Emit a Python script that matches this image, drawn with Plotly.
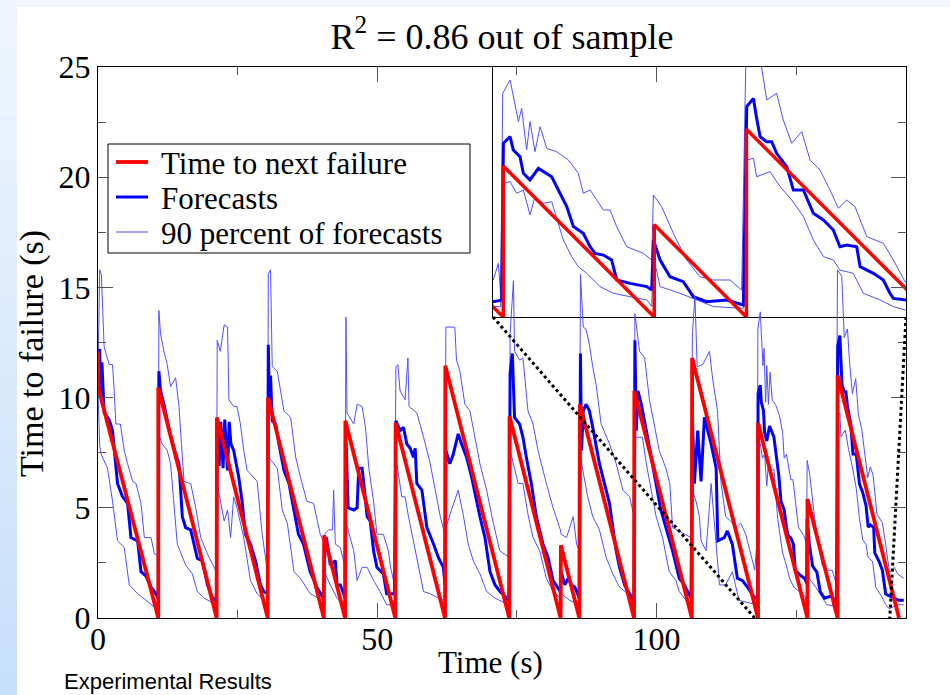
import plotly.graph_objects as go

# ---------------- data ----------------
red_t = [0, 0.1, 10.8, 10.8, 21.25, 21.3, 30.4, 30.45, 40.45, 40.5, 44.25, 44.3, 53.25,
         53.3, 62.15, 62.2, 73.65, 73.7, 82.85, 82.9, 86.2, 86.3, 96.0, 96.05, 106.35,
         106.4, 118.2, 118.2, 127.05, 127.05, 132.45, 132.45, 143.45]
red_v = [12.1, 10.4, 0, 10.45, 0, 9.1, 0, 10.0, 0, 3.75, 0, 8.95, 0,
         8.85, 0, 11.45, 0, 9.15, 0, 3.3, 0, 9.7, 0, 10.3, 0,
         11.8, 0, 8.85, 0, 5.4, 0, 11.0, 0]

fc_t = [0.0, 0.15, 0.3, 0.5, 0.7, 1.1, 2.0, 2.6, 3.5, 4.4, 5.3, 5.9, 7.1, 7.7, 8.6, 9.5, 10.1, 10.8,
        10.9, 11.2, 11.8, 12.7, 13.6, 14.5, 15.1, 15.7, 16.6, 17.8, 18.7, 19.6, 20.5, 21.2,
        21.35, 21.7, 22.0, 22.4, 22.7, 23.2, 23.5, 23.8, 24.3, 25.2, 25.8, 26.4, 27.3, 28.2, 29.1, 29.7, 30.35,
        30.5, 30.7, 30.9, 31.2, 31.8, 32.4, 33.3, 34.2, 35.1, 35.9, 36.8, 38.0, 39.2, 40.35,
        40.55, 40.9, 41.6, 42.5, 42.8, 43.4, 44.0, 44.25,
        44.4, 44.8, 45.8, 46.4, 46.7, 47.3, 47.6, 48.2, 48.75, 49.35, 49.95, 51.1, 51.7, 53.1,
        53.35, 54.1, 54.7, 55.3, 55.9, 56.5, 56.8, 57.1, 58.0, 58.9, 60.1, 60.95, 61.85, 62.15,
        62.3, 63.0, 63.6, 64.5, 65.1, 66.0, 66.9, 67.8, 68.4, 69.3, 70.2, 71.1, 72.0, 73.6,
        73.8, 74.2, 74.6, 75.5, 76.1, 76.7, 77.6, 78.5, 79.7, 80.6, 81.5, 82.8,
        82.95, 83.6, 84.2, 84.8, 85.4, 86.2,
        86.4, 86.6, 86.9, 87.4, 88.0, 88.6, 89.2, 89.8, 90.7, 91.6, 92.2, 92.8, 93.4, 94.3, 95.2, 96.0,
        96.15, 96.4, 96.7, 97.3, 98.2, 99.05, 99.95, 100.8, 101.7, 102.9, 104.1, 105.0, 106.2,
        106.45, 106.8, 107.4, 108.0, 108.6, 109.2, 109.8, 110.7, 111.0, 112.15, 112.7, 113.6, 114.5, 115.4,
        116.3, 117.62, 118.11,
        118.21, 118.6, 118.79, 119.18, 119.38, 119.77, 120.26, 121.04, 121.43, 121.92, 122.31, 122.89,
        123.29, 123.58, 124.07, 124.55, 124.85, 125.63, 126.61, 126.9,
        127.0, 127.39, 127.97, 128.75, 129.34, 130.12, 131.29, 132.27,
        132.47, 132.86, 133.05, 133.25, 133.64, 133.93, 134.22, 134.81, 135.2, 135.79, 136.37, 136.96,
        137.54, 137.93, 138.32, 138.91, 139.11, 139.89, 140.47, 140.86, 141.06, 141.74, 142.5, 143.4, 144.3]
fc_v = [12.0, 10.6, 12.2, 10.0, 11.6, 9.3, 9.0, 8.5, 6.1, 5.5, 5.2, 3.65, 3.5, 2.1, 1.9, 1.4, 1.2, 0.9,
        11.2, 10.3, 9.7, 8.6, 7.7, 7.0, 4.6, 4.1, 4.0, 2.7, 2.6, 1.5, 0.9, 0.8,
        8.8, 6.9, 8.9, 6.8, 9.0, 6.7, 8.9, 7.9, 7.6, 6.4, 5.3, 3.8, 3.35, 2.6, 1.5, 1.2, 1.1,
        12.4, 9.5, 11.0, 8.95, 8.8, 7.9, 6.7, 6.1, 4.9, 3.8, 3.35, 2.1, 1.4, 0.9,
        2.6, 3.65, 2.4, 2.6, 1.5, 1.5, 1.1, 0.9,
        8.2, 5.0, 4.9, 5.0, 6.8, 6.8, 6.1, 4.6, 4.4, 3.05, 2.3, 2.0, 1.1, 1.1,
        8.95, 8.5, 8.65, 7.9, 7.7, 7.3, 7.7, 6.1, 5.8, 4.1, 3.35, 2.75, 2.3, 1.5,
        7.6, 7.0, 7.4, 8.35, 7.9, 7.3, 6.4, 5.3, 4.6, 3.65, 2.1, 1.5, 1.2, 0.8,
        11.1, 12.0, 9.1, 8.8, 8.2, 7.3, 6.1, 4.6, 3.35, 2.75, 1.7, 1.2,
        2.1, 1.5, 1.8, 1.5, 1.4, 0.9,
        12.0, 7.6, 9.4, 9.7, 9.4, 8.65, 7.9, 7.0, 6.1, 5.2, 4.1, 3.05, 2.3, 1.5, 1.1, 0.8,
        12.6, 8.5, 10.3, 9.7, 8.5, 7.3, 6.1, 4.9, 4.1, 3.05, 1.8, 1.5, 0.9,
        9.1, 6.1, 8.5, 6.2, 9.1, 8.5, 7.9, 6.8, 3.5, 3.65, 3.95, 3.35, 1.8, 1.7,
        1.4, 0.9, 0.99,
        10.18, 10.57, 9.79, 9.4, 8.42, 8.03, 8.71, 8.22, 7.44, 6.47, 5.3, 4.9,
        4.12, 3.73, 3.63, 3.34, 2.17, 1.97, 1.78, 1.58,
        4.51, 3.34, 2.36, 2.07, 1.19, 0.9, 1.0, 0.71,
        12.33, 12.81, 11.64, 10.57, 10.27, 10.27, 9.59, 8.81, 7.44, 7.44, 6.08, 5.69,
        5.1, 4.12, 4.22, 4.12, 2.95, 2.56, 2.17, 1.39, 1.09, 1.0, 0.9, 0.8, 0.8]

hi_t = [0.0, 0.3, 0.6, 1.1, 2.0, 2.6, 2.9, 3.2, 4.0, 4.7, 5.3, 6.2, 6.8, 7.7, 8.3, 9.5, 10.1, 10.8,
        10.9, 11.2, 11.8, 12.4, 13.0, 13.9, 14.5, 15.4, 16.6, 17.5, 18.4, 19.6, 21.2,
        21.35, 21.9, 22.6, 23.2, 23.45, 24.3, 24.9, 25.5, 26.1, 26.7, 28.5, 29.4, 30.35,
        30.5, 30.9, 31.2, 32.1, 32.7, 33.3, 34.5, 35.4, 36.25, 37.4, 38.6, 39.8, 40.35,
        40.55, 41.3, 42.0, 42.2, 42.5, 43.4, 44.25,
        44.4, 44.6, 45.8, 46.4, 47.3, 47.9, 48.5, 49.35, 49.95, 51.1, 52.0, 52.4, 53.1,
        53.35, 53.7, 54.1, 55.0, 55.5, 55.7, 57.1, 58.3, 59.5, 60.4, 61.3, 62.1,
        62.3, 63.9, 64.2, 64.8, 65.7, 66.6, 67.5, 68.4, 69.6, 70.8, 71.95, 73.6,
        73.8, 74.4, 74.6, 75.5, 76.1, 77.0, 77.9, 78.8, 80.3, 81.5, 82.8,
        82.95, 83.9, 85.1, 85.7, 86.2,
        86.4, 86.9, 87.4, 88.0, 88.6, 89.2, 90.1, 91.6, 92.8, 94.0, 95.2, 96.0,
        96.15, 97.0, 97.9, 98.75, 99.6, 100.5, 101.7, 102.4, 102.9, 104.1, 106.2,
        106.45, 106.9, 107.3, 108.3, 109.5, 110.1, 110.95, 111.55, 112.4, 113.3, 114.2, 115.1, 116.0,
        117.62, 117.91, 118.05,
        118.17, 118.6, 118.79, 119.09, 119.28, 119.57, 119.77, 120.06, 120.36, 120.75, 121.33, 122.02,
        122.6, 122.89, 123.29, 124.07, 124.46, 124.85, 125.43, 126.41, 126.9,
        127.0, 127.48, 128.17, 128.95, 129.73, 130.51, 131.49, 132.17,
        132.43, 133.2, 133.64, 134.22, 134.61, 135.1, 135.69, 136.18, 136.76, 137.35, 137.84, 138.32,
        138.81, 139.5, 140.47, 141.06, 141.74, 142.6, 143.2, 144.3]
hi_v = [11.0, 15.8, 15.6, 12.3, 11.5, 11.5, 10.3, 8.8, 8.8, 7.6, 7.0, 6.2, 6.1, 5.2, 3.65, 3.65, 2.9, 2.8,
        13.95, 12.9, 12.1, 11.5, 10.5, 10.9, 9.6, 6.2, 6.1, 5.0, 3.65, 2.9, 2.1,
        12.6, 12.1, 13.3, 13.2, 9.9, 9.6, 9.6, 8.8, 7.6, 6.7, 6.2, 3.8, 2.1,
        15.6, 15.8, 11.4, 11.2, 10.3, 9.4, 9.1, 7.3, 6.4, 5.3, 5.2, 3.8, 3.5,
        3.8, 4.0, 4.0, 5.8, 3.35, 3.2, 2.3,
        13.65, 9.3, 8.8, 9.7, 9.6, 8.65, 6.8, 5.3, 3.8, 3.8, 3.05, 2.3, 1.5,
        11.4, 11.5, 10.3, 9.9, 11.8, 9.6, 9.3, 8.2, 7.0, 5.8, 4.6, 3.8,
        13.2, 13.2, 11.7, 11.2, 9.7, 9.4, 8.2, 7.0, 5.8, 4.3, 3.05, 2.75,
        12.9, 15.3, 12.1, 11.7, 11.8, 9.4, 8.8, 7.6, 6.1, 5.0, 4.0,
        3.8, 3.65, 4.6, 3.35, 3.05,
        15.6, 13.2, 13.1, 12.4, 11.4, 10.6, 8.8, 7.9, 7.0, 5.8, 5.5, 4.6,
        13.8, 12.1, 11.8, 9.9, 8.8, 7.6, 6.8, 6.1, 4.1, 3.95, 3.65,
        12.9, 14.6, 11.4, 11.5, 12.1, 10.8, 9.4, 6.2, 4.6, 4.4, 4.1, 4.3, 3.8,
        2.17, 3.15, 1.39,
        13.11, 13.89, 12.91, 11.45, 12.23, 9.79, 11.45, 9.69, 11.15, 9.88, 9.69, 9.2,
        8.42, 7.25, 7.44, 6.27, 6.27, 5.29, 4.12, 3.73, 3.34,
        7.15, 6.47, 4.9, 3.34, 2.36, 2.17, 2.17, 1.58,
        15.8, 15.5, 12.72, 13.11, 11.54, 10.18, 10.86, 9.2, 8.61, 7.44, 6.37, 6.86,
        6.47, 4.71, 4.32, 3.34, 2.07, 2.3, 2.0, 1.8]

lo_t = [0.0, 0.3, 0.6, 1.7, 2.6, 3.5, 4.7, 5.6, 7.1, 8.3, 10.1, 10.8,
        10.9, 11.5, 12.4, 13.0, 14.2, 15.7, 16.9, 17.8, 19.0, 21.2,
        21.35, 22.6, 23.2, 23.75, 24.3, 24.9, 26.1, 27.3, 28.5, 29.7, 30.35,
        30.55, 32.1, 33.0, 33.9, 35.1, 36.25, 38.0, 40.35,
        40.55, 41.6, 42.8, 44.25,
        44.45, 45.8, 46.4, 47.3, 48.2, 49.35, 50.5, 51.7, 53.1,
        53.35, 54.4, 55.0, 55.6, 56.8, 58.3, 59.5, 60.95, 62.1,
        62.3, 63.3, 64.5, 65.4, 66.3, 67.2, 68.4, 69.6, 71.1, 73.6,
        73.8, 75.25, 76.1, 77.0, 77.9, 79.1, 80.3, 81.5, 82.8,
        82.95, 84.5, 86.2,
        86.4, 87.7, 88.6, 89.8, 91.0, 92.2, 93.4, 94.9, 96.0,
        96.15, 97.5, 98.2, 99.05, 99.95, 101.1, 102.3, 103.5, 104.1, 106.2,
        106.45, 107.1, 107.7, 108.0, 108.9, 109.8, 110.4, 111.3, 112.4, 113.6, 114.8, 117.62, 118.05,
        118.17, 118.6, 118.99, 119.38, 119.77, 120.06, 120.55, 121.04, 121.72, 122.21, 122.6, 123.09,
        123.87, 124.65, 125.63, 126.61, 126.9,
        127.0, 127.39, 128.56, 130.51, 132.27,
        132.47, 132.86, 133.05, 133.83, 134.42, 135.1, 135.79, 136.37, 136.96, 137.54, 137.93, 138.71,
        139.3, 140.28, 141.06, 141.74, 143.0, 144.3]
lo_v = [10.3, 7.8, 7.4, 6.8, 5.3, 3.5, 3.2, 1.5, 1.1, 0.85, 0.5, 0.5,
        8.3, 7.9, 7.6, 7.0, 3.35, 2.4, 2.0, 1.2, 0.9, 0.6,
        6.1, 4.4, 4.9, 3.65, 5.5, 5.0, 3.65, 1.7, 1.1, 0.8, 0.5,
        7.3, 6.8, 4.9, 4.3, 2.1, 1.8, 1.1, 0.8,
        2.1, 1.5, 0.9, 0.5,
        4.3, 3.05, 1.7, 2.3, 2.3, 1.7, 1.2, 0.6, 0.6,
        7.3, 5.5, 5.5, 4.6, 3.05, 1.2, 1.1, 0.9, 0.8,
        4.1, 4.9, 5.8, 4.7, 3.35, 2.6, 2.0, 1.2, 0.9, 0.6,
        7.6, 6.1, 6.1, 4.7, 3.65, 3.05, 1.8, 1.2, 0.9,
        1.1, 0.8, 0.6,
        7.3, 5.5, 4.6, 4.0, 2.75, 2.0, 1.4, 1.1, 0.6,
        8.2, 8.2, 7.0, 5.8, 4.6, 3.65, 2.1, 1.7, 1.2, 0.5,
        5.8, 5.3, 4.6, 3.5, 3.05, 6.1, 4.3, 1.5, 1.5, 2.1, 0.8, 0.6, 0.6,
        7.83, 7.93, 7.25, 7.44, 5.98, 7.05, 6.66, 6.76, 4.51, 3.54, 2.95, 2.56,
        1.78, 1.39, 1.19, 1.0, 0.61,
        3.54, 1.78, 1.39, 0.61, 0.51,
        9.2, 9.3, 8.22, 8.52, 7.64, 6.86, 5.88, 4.51, 3.54, 3.34, 2.75, 2.56,
        1.39, 1.0, 0.61, 0.41, 0.6, 0.6]

x_ticks = [0, 50, 100]
y_ticks = [0, 5, 10, 15, 20, 25]
legend_labels = ["Time to next failure", "Forecasts", "90 percent of forecasts"]
title_text = "R<sup>2</sup> = 0.86 out of sample"
x_title = "Time (s)"
y_title = "Time to failure (s)"
footer_text = "Experimental Results"

# ---------------- layout geometry ----------------
W, H = 950, 695
ML, MR, MT, MB = 98, 44, 67, 77
PW, PH = W - ML - MR, H - MT - MB
main_xr = [0, 144.7]
main_yr = [0, 25]
inset_xr = [117.6, 141.8]
inset_yr = [0, 14.65]
inset_dom_x = [(493 - ML) / PW, 1.0]
inset_dom_y = [(H - MB - 317) / PH, 1.0]


def px(x):
    return (x - ML) / PW


def py(y):
    return (H - MB - y) / PH


SERIF = "Liberation Serif"
RED = "#ff0000"
BLUE = "#0000ff"
THIN = "rgb(80,80,255)"

fig = go.Figure()

# inset (drawn underneath the main plot, on axes x / y)
fig.add_trace(go.Scatter(x=hi_t, y=hi_v, mode="lines", line=dict(color=THIN, width=1),
                         xaxis="x", yaxis="y", showlegend=False, hoverinfo="skip"))
fig.add_trace(go.Scatter(x=lo_t, y=lo_v, mode="lines", line=dict(color=THIN, width=1),
                         xaxis="x", yaxis="y", showlegend=False, hoverinfo="skip"))
fig.add_trace(go.Scatter(x=fc_t, y=fc_v, mode="lines", line=dict(color=BLUE, width=3),
                         xaxis="x", yaxis="y", showlegend=False, hoverinfo="skip"))
fig.add_trace(go.Scatter(x=red_t, y=red_v, mode="lines", line=dict(color=RED, width=3.5),
                         xaxis="x", yaxis="y", showlegend=False, hoverinfo="skip"))

# main plot (axes x2 / y2)
fig.add_trace(go.Scatter(x=hi_t, y=hi_v, mode="lines", line=dict(color=THIN, width=1),
                         xaxis="x2", yaxis="y2", name=legend_labels[2], showlegend=False))
fig.add_trace(go.Scatter(x=lo_t, y=lo_v, mode="lines", line=dict(color=THIN, width=1),
                         xaxis="x2", yaxis="y2", name=legend_labels[2] + " (lower)", showlegend=False))
fig.add_trace(go.Scatter(x=fc_t, y=fc_v, mode="lines", line=dict(color=BLUE, width=3),
                         xaxis="x2", yaxis="y2", name=legend_labels[1], showlegend=False))
fig.add_trace(go.Scatter(x=red_t, y=red_v, mode="lines", line=dict(color=RED, width=3.8),
                         xaxis="x2", yaxis="y2", name=legend_labels[0], showlegend=False))

shapes = []
# slide background: top band and left gradient strip
shapes.append(dict(type="rect", xref="paper", yref="paper", x0=px(0), x1=px(W), y0=py(0), y1=py(7),
                   fillcolor="#f1f6fd", line=dict(width=0), layer="below"))
n = 30
c0 = (238, 245, 253)
c1 = (199, 224, 250)
for i in range(n):
    f = i / (n - 1)
    col = "rgb(%d,%d,%d)" % tuple(round(c0[k] + (c1[k] - c0[k]) * f) for k in range(3))
    shapes.append(dict(type="rect", xref="paper", yref="paper", x0=px(0), x1=px(17),
                       y0=py(H * i / n), y1=py(H * (i + 1) / n + 1),
                       fillcolor=col, line=dict(width=0), layer="below"))

# dotted connectors between zoomed region and inset
ix0 = main_xr[0] + inset_dom_x[0] * (main_xr[1] - main_xr[0])
ix1 = main_xr[0] + inset_dom_x[1] * (main_xr[1] - main_xr[0])
iy0 = main_yr[0] + inset_dom_y[0] * (main_yr[1] - main_yr[0])
for (sx, tx) in [(ix0, inset_xr[0]), (ix1, inset_xr[1])]:
    shapes.append(dict(type="line", xref="x2", yref="y2", x0=sx, y0=iy0, x1=tx, y1=inset_yr[0],
                       line=dict(color="black", width=3, dash="dot")))

# manual legend (box, sample lines, labels)
shapes.append(dict(type="rect", xref="paper", yref="paper", x0=px(108), x1=px(470), y0=py(144), y1=py(253),
                   fillcolor="white", line=dict(color="black", width=1)))
leg_y = [162, 197, 232]
leg_style = [(RED, 3.8), (BLUE, 3), (THIN, 1)]
annotations = []
for lbl, yy, (c, w) in zip(legend_labels, leg_y, leg_style):
    shapes.append(dict(type="line", xref="paper", yref="paper", x0=px(116), x1=px(148), y0=py(yy), y1=py(yy),
                       line=dict(color=c, width=w)))
    annotations.append(dict(text=lbl, xref="paper", yref="paper", x=px(160), y=py(yy + 1),
                            xanchor="left", yanchor="middle", showarrow=False, borderpad=0,
                            font=dict(family=SERIF, size=31, color="black")))

# axis titles and footer
annotations.append(dict(text=x_title, xref="paper", yref="paper", x=px(490), y=py(662),
                        xanchor="center", yanchor="middle", showarrow=False, borderpad=0,
                        font=dict(family=SERIF, size=31, color="black")))
annotations.append(dict(text=y_title, xref="paper", yref="paper", x=px(32), y=py(354),
                        xanchor="center", yanchor="middle", textangle=-90, showarrow=False, borderpad=0,
                        font=dict(family=SERIF, size=34, color="black")))
annotations.append(dict(text=footer_text, xref="paper", yref="paper", x=px(63), y=py(694.5),
                        xanchor="left", yanchor="bottom", showarrow=False, borderpad=0,
                        font=dict(family="Liberation Sans", size=22, color="black")))

axis_common = dict(showgrid=False, zeroline=False, showline=True, linecolor="black", linewidth=1.2)

fig.update_layout(
    width=W, height=H, margin=dict(l=ML, r=MR, t=MT, b=MB),
    paper_bgcolor="white", plot_bgcolor="rgba(0,0,0,0)",
    showlegend=False,
    title=dict(text=title_text, x=px(502), xref="paper", xanchor="center",
               y=1 - 36 / H, yref="container", yanchor="middle",
               font=dict(family=SERIF, size=36, color="black")),
    xaxis=dict(domain=inset_dom_x, anchor="y", range=inset_xr, showticklabels=False, ticks="",
               mirror=True, **axis_common),
    yaxis=dict(domain=inset_dom_y, anchor="x", range=inset_yr, showticklabels=False, ticks="",
               mirror=True, **axis_common),
    xaxis2=dict(domain=[0, 1], anchor="y2", range=main_xr, tickvals=x_ticks, ticks="inside",
                ticklen=15, tickwidth=1, tickcolor="#555", mirror="ticks", ticklabelstandoff=-8,
                minor=dict(ticks="inside", ticklen=8, dtick=25, tick0=0, tickcolor="#555"),
                tickfont=dict(family=SERIF, size=32, color="black"),
                **axis_common),
    yaxis2=dict(domain=[0, 1], anchor="x2", range=main_yr, tickvals=y_ticks, ticks="inside",
                ticklen=15, tickwidth=1, tickcolor="#555", mirror="ticks",
                minor=dict(ticks="inside", ticklen=8, dtick=2.5, tick0=0, tickcolor="#555"),
                tickfont=dict(family=SERIF, size=32, color="black"),
                **axis_common),
    shapes=shapes,
    annotations=annotations,
)

fig.write_html("out.html")
